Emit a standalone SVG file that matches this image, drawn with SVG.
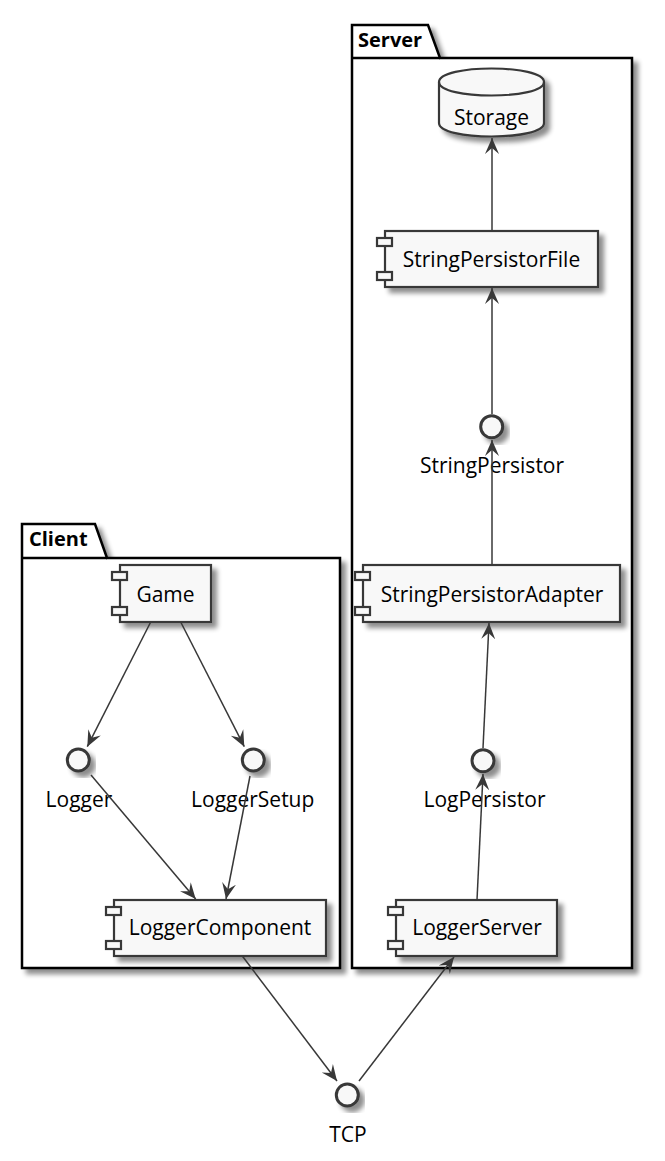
<svg xmlns="http://www.w3.org/2000/svg" width="665" height="1161" viewBox="0 0 665 1161">
<style>
.pkg{fill:#FFFFFF;stroke:#000000;stroke-width:2.5}
.pkgt{font-family:"Open Sans","Noto Sans",sans-serif;font-weight:bold;font-size:20px;fill:#000000}
.box{fill:#F8F8F8;stroke:#383838;stroke-width:2.2}
.pin{fill:#F8F8F8;stroke:#383838;stroke-width:2.2}
.ifc{fill:#F8F8F8;stroke:#383838;stroke-width:3}
.lbl{font-family:"Open Sans","Noto Sans",sans-serif;font-size:21px;fill:#000000;text-anchor:middle}
.edge{fill:none;stroke:#383838;stroke-width:1.5}
</style>
<defs>
<filter id="sh" x="-20%" y="-20%" width="150%" height="150%">
<feGaussianBlur in="SourceAlpha" stdDeviation="2.5"/>
<feOffset dx="5" dy="5" result="b"/>
<feComponentTransfer><feFuncA type="linear" slope="0.45"/></feComponentTransfer>
<feMerge><feMergeNode/><feMergeNode in="SourceGraphic"/></feMerge>
</filter>
<marker id="ah" markerUnits="userSpaceOnUse" markerWidth="18" markerHeight="16" viewBox="0 0 18 16" refX="16" refY="8" orient="auto">
<path d="M0,1 L16,8 L0,15 L6,8 Z" fill="#383838"/>
</marker>
</defs>

<g id="pkg-client">
<path class="pkg" filter="url(#sh)" d="M22,558 L22,524 L95,524 L107,558 L340,558 L340,968 L22,968 Z"/>
<line x1="22" y1="558" x2="107" y2="558" stroke="#000" stroke-width="2.5"/>
<text class="pkgt" x="29" y="546">Client</text>
</g>

<g id="pkg-server">
<path class="pkg" filter="url(#sh)" d="M352,58 L352,25 L428,25 L440,58 L632,58 L632,968 L352,968 Z"/>
<line x1="352" y1="58" x2="440" y2="58" stroke="#000" stroke-width="2.5"/>
<text class="pkgt" x="358" y="47">Server</text>
</g>

<g id="storage">
<path class="box" filter="url(#sh)" d="M439,82 C439,64 544,64 544,82 L544,123 C544,141 439,141 439,123 Z"/>
<path class="edge" style="stroke-width:2.2" d="M439,82 C439,100 544,100 544,82"/>
<text class="lbl" x="491.5" y="125">Storage</text>
</g>

<g id="stringpersistorfile">
<rect class="box" filter="url(#sh)" x="385" y="231" width="213" height="56"/>
<rect class="pin" x="377" y="238" width="15" height="8"/>
<rect class="pin" x="377" y="272" width="15" height="8"/>
<text class="lbl" x="491.5" y="267">StringPersistorFile</text>
</g>

<g id="stringpersistor">
<circle class="ifc" filter="url(#sh)" cx="491.7" cy="426.7" r="11"/>
<text class="lbl" x="492" y="473">StringPersistor</text>
</g>

<g id="stringpersistoradapter">
<rect class="box" filter="url(#sh)" x="363" y="565" width="257" height="57"/>
<rect class="pin" x="355" y="572" width="15" height="8"/>
<rect class="pin" x="355" y="607" width="15" height="8"/>
<text class="lbl" x="492" y="602">StringPersistorAdapter</text>
</g>

<g id="logpersistor">
<circle class="ifc" filter="url(#sh)" cx="483" cy="760.7" r="11"/>
<text class="lbl" x="484.5" y="807">LogPersistor</text>
</g>

<g id="loggerserver">
<rect class="box" filter="url(#sh)" x="396" y="900" width="161" height="56"/>
<rect class="pin" x="388" y="907" width="15" height="8"/>
<rect class="pin" x="388" y="941" width="15" height="8"/>
<text class="lbl" x="477" y="935">LoggerServer</text>
</g>

<g id="game">
<rect class="box" filter="url(#sh)" x="120" y="565" width="91" height="57"/>
<rect class="pin" x="112" y="572" width="15" height="8"/>
<rect class="pin" x="112" y="607" width="15" height="8"/>
<text class="lbl" x="165.5" y="601.5">Game</text>
</g>

<g id="logger">
<circle class="ifc" filter="url(#sh)" cx="78.3" cy="760" r="11"/>
<text class="lbl" x="79" y="807">Logger</text>
</g>

<g id="loggersetup">
<circle class="ifc" filter="url(#sh)" cx="253.3" cy="760" r="11"/>
<text class="lbl" x="252.7" y="807">LoggerSetup</text>
</g>

<g id="loggercomponent">
<rect class="box" filter="url(#sh)" x="114" y="900" width="212" height="56"/>
<rect class="pin" x="106" y="907" width="15" height="8"/>
<rect class="pin" x="106" y="941" width="15" height="8"/>
<text class="lbl" x="220" y="935">LoggerComponent</text>
</g>

<g id="tcp">
<circle class="ifc" filter="url(#sh)" cx="347.3" cy="1095" r="11"/>
<text class="lbl" x="348" y="1142">TCP</text>
</g>

<g id="connectors">
<line class="edge" marker-end="url(#ah)" x1="492" y1="231" x2="492" y2="138"/>
<line class="edge" marker-end="url(#ah)" x1="492" y1="414" x2="492" y2="288"/>
<line class="edge" marker-end="url(#ah)" x1="492" y1="565" x2="492" y2="440"/>
<line class="edge" marker-end="url(#ah)" x1="483" y1="748" x2="489" y2="623"/>
<line class="edge" marker-end="url(#ah)" x1="477" y1="900" x2="483" y2="774"/>
<line class="edge" marker-end="url(#ah)" x1="359" y1="1081" x2="454" y2="957"/>
<line class="edge" marker-end="url(#ah)" x1="150.7" y1="622" x2="87.3" y2="746.7"/>
<line class="edge" marker-end="url(#ah)" x1="180.7" y1="622" x2="244.3" y2="746.7"/>
<line class="edge" marker-end="url(#ah)" x1="91" y1="775" x2="195.7" y2="899"/>
<line class="edge" marker-end="url(#ah)" x1="250" y1="776" x2="226" y2="899"/>
<line class="edge" marker-end="url(#ah)" x1="242.3" y1="956" x2="337" y2="1081"/>
</g>
</svg>
